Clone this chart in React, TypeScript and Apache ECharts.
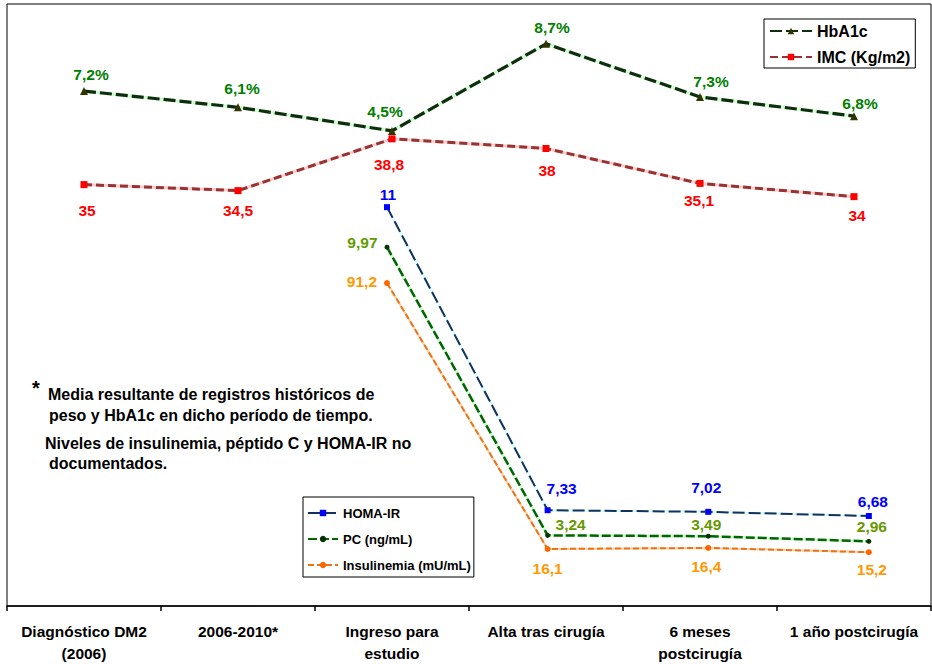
import React, { useEffect, useRef } from "react";
import * as echarts from "echarts";

// ---------- data ----------
const categories = [
  "Diagnóstico DM2\n(2006)",
  "2006-2010*",
  "Ingreso para\nestudio",
  "Alta tras cirugía",
  "6 meses\npostcirugía",
  "1 año postcirugía",
];

// HbA1c (%) – labelled values and heights as drawn in the picture
const hba1c = [7.2, 6.1, 4.5, 8.7, 7.3, 6.8];
const hba1cDrawn = [7.2, 6.1, 4.5, 10.4, 6.8, 5.5];

// IMC (Kg/m2)
const imc = [35, 34.5, 38.8, 38, 35.1, 34];

// Series that start at "Ingreso para estudio" (category index 2)
const lowerStart = 2;
const homaIR = [11, 7.33, 7.02, 6.68];
const homaIRDrawn = [11, 7.33, 7.31, 7.26];
const pc = [9.97, 3.24, 3.49, 2.96];
const pcDrawn = [9.97, 3.24, 3.22, 3.1];
const insulinemia = [91.2, 16.1, 16.4, 15.2];

const noteLines = [
  "Media resultante de registros históricos de",
  "peso y HbA1c en dicho período de tiempo.",
  "Niveles de insulinemia, péptido C y HOMA-IR no",
  "documentados.",
];

// ---------- style ----------
const FONT = '"Liberation Sans", Arial, Helvetica, sans-serif';

const hbLabelOffsets = [[7, 0], [4, -2], [-7, -2], [6, 1], [11, 2], [6, 4]];
const imcLabelOffsets = [[3, 9], [0, 3], [-3, 9], [1, 6], [-1, 1], [3, 2]];
const homaLabelOffsets = [[1, 3], [14, -6], [-2, -8], [4, 2]];
const pcLabelOffsets = [[-2, -5], [23, 5], [-2, 4], [3, 1]];
const insLabelOffsets = [[-2, -2], [0, 4], [-2, 3], [3, 1]];

const fmt = (v: number) => String(v).replace(".", ",");

function labelItems(
  points: any[],
  values: number[],
  offsets: number[][],
  positions: string[],
  suffix: string
) {
  return points.map((p, i) => ({
    value: p,
    label: {
      show: true,
      position: positions[i],
      distance: 5,
      offset: offsets[i],
      formatter: fmt(values[i]) + suffix,
    },
  }));
}

function pair(
  name: string,
  data: any[],
  xAxisIndex: number,
  yAxisIndex: number,
  dark: string,
  light: string,
  width: number,
  dash: number[],
  symbol: string,
  symbolSize: number,
  markerColor: string,
  labelColor: string,
  z: number
) {
  const plain = data.map((d: any) => d.value);
  return [
    {
      name: name + "_fondo",
      type: "line",
      xAxisIndex,
      yAxisIndex,
      data: plain,
      symbol: "none",
      silent: true,
      lineStyle: { color: light, width, type: "solid" },
      z: z,
    },
    {
      name,
      type: "line",
      xAxisIndex,
      yAxisIndex,
      data,
      symbol,
      symbolSize,
      showAllSymbol: true,
      itemStyle: { color: markerColor },
      lineStyle: { color: dark, width, type: dash },
      label: {
        show: true,
        color: labelColor,
        fontSize: 15.5,
        fontWeight: "bold",
        fontFamily: FONT,
      },
      z: z + 1,
    },
  ];
}

export default function App() {
  const ref = useRef<HTMLDivElement>(null);

  useEffect(() => {
    document.body.style.margin = "0";
    if (!ref.current) return;
    const chart = echarts.init(ref.current, undefined, { renderer: "svg" });

    const hbData = labelItems(hba1cDrawn, hba1c, hbLabelOffsets, hba1c.map(() => "top"), "%");
    const imcData = labelItems(imc, imc, imcLabelOffsets, imc.map(() => "bottom"), "");
    const homaData = labelItems(
      homaIRDrawn.map((v, i) => [lowerStart + i, v]),
      homaIR,
      homaLabelOffsets,
      homaIR.map(() => "top"),
      ""
    );
    const pcData = labelItems(
      pcDrawn.map((v, i) => [lowerStart + i, v]),
      pc,
      pcLabelOffsets,
      pc.map((_, i) => (i === 0 ? "left" : "top")),
      ""
    );
    const insData = labelItems(
      insulinemia.map((v, i) => [lowerStart + i, v]),
      insulinemia,
      insLabelOffsets,
      insulinemia.map((_, i) => (i === 0 ? "left" : "bottom")),
      ""
    );

    const option: any = {
      animation: false,
      backgroundColor: "#ffffff",
      textStyle: { fontFamily: FONT },
      grid: {
        left: 7,
        right: 1,
        top: 4,
        bottom: 56,
        show: true,
        borderColor: "#000",
        borderWidth: 1,
        backgroundColor: "transparent",
      },
      xAxis: [
        {
          type: "category",
          data: categories,
          boundaryGap: true,
          axisLine: { lineStyle: { color: "#000", width: 1.5 } },
          axisTick: { show: true, length: 5, lineStyle: { color: "#000", width: 1.5 } },
          axisLabel: {
            color: "#000",
            fontWeight: "bold",
            fontSize: 15.5,
            lineHeight: 22,
            margin: 14,
            interval: 0,
            fontFamily: FONT,
          },
          splitLine: { show: false },
        },
        { type: "value", min: -0.366, max: 5.387, show: false },
      ],
      yAxis: [
        { type: "value", min: 0, max: 50, show: false },
        { type: "value", min: -27.7, max: 13.1, show: false },
        { type: "value", min: 6.17, max: 13.46, show: false },
        { type: "value", min: 1.59, max: 15.65, show: false },
        { type: "value", min: 0, max: 170, show: false },
      ],
      legend: [
        {
          data: ["HbA1c", "IMC (Kg/m2)"],
          orient: "vertical",
          left: 764,
          top: 19,
          itemWidth: 42,
          itemHeight: 8,
          itemGap: 8,
          padding: [3, 5, 2, 5],
          borderColor: "#000",
          borderWidth: 1,
          backgroundColor: "#fff",
          selectedMode: false,
          textStyle: { fontSize: 16, fontWeight: "bold", color: "#000", lineHeight: 18, fontFamily: FONT },
        },
        {
          data: ["HOMA-IR", "PC (ng/mL)", "Insulinemia (mU/mL)"],
          orient: "vertical",
          left: 303,
          top: 497,
          itemWidth: 30,
          itemHeight: 8,
          itemGap: 8,
          padding: [7, 3, 3, 4],
          borderColor: "#000",
          borderWidth: 1,
          backgroundColor: "#fff",
          selectedMode: false,
          textStyle: { fontSize: 13, fontWeight: "bold", color: "#000", lineHeight: 18, fontFamily: FONT },
        },
      ],
      series: [
        ...pair("IMC (Kg/m2)", imcData, 0, 0, "#993333", "#ffcccc", 3, [8, 4], "rect", 7, "#ff0000", "#ff0000", 2),
        ...pair("HbA1c", hbData, 0, 1, "#0f2e0f", "#ccffcc", 3.2, [12, 4], "triangle", 8, "#333300", "#008000", 4),
        ...pair("Insulinemia (mU/mL)", insData, 1, 4, "#e8741c", "#ffcc99", 2, [6, 3], "circle", 6, "#ff6600", "#ff9900", 6),
        ...pair("PC (ng/mL)", pcData, 1, 3, "#006600", "#ccffcc", 2.5, [9, 3], "circle", 5, "#003300", "#669900", 8),
        ...pair("HOMA-IR", homaData, 1, 2, "#12315e", "#ccffff", 2, [12, 4], "rect", 6, "#0000ff", "#0000ff", 10),
      ],
      graphic: [
        {
          type: "text",
          x: 32,
          y: 388,
          style: { text: "*", fill: "#000", font: 'bold 20px "Liberation Sans", Arial, sans-serif', align: "left", verticalAlign: "middle" },
        },
        ...noteLines.map((t, i) => ({
          type: "text",
          x: [48, 49, 45, 49][i],
          y: [394, 415, 443, 463][i],
          style: {
            text: t,
            fill: "#000",
            font: 'bold 16px "Liberation Sans", Arial, sans-serif',
            align: "left",
            verticalAlign: "middle",
          },
        })),
      ],
    };

    chart.setOption(option);
    return () => chart.dispose();
  }, []);

  return <div ref={ref} style={{ width: 932, height: 664 }} />;
}
